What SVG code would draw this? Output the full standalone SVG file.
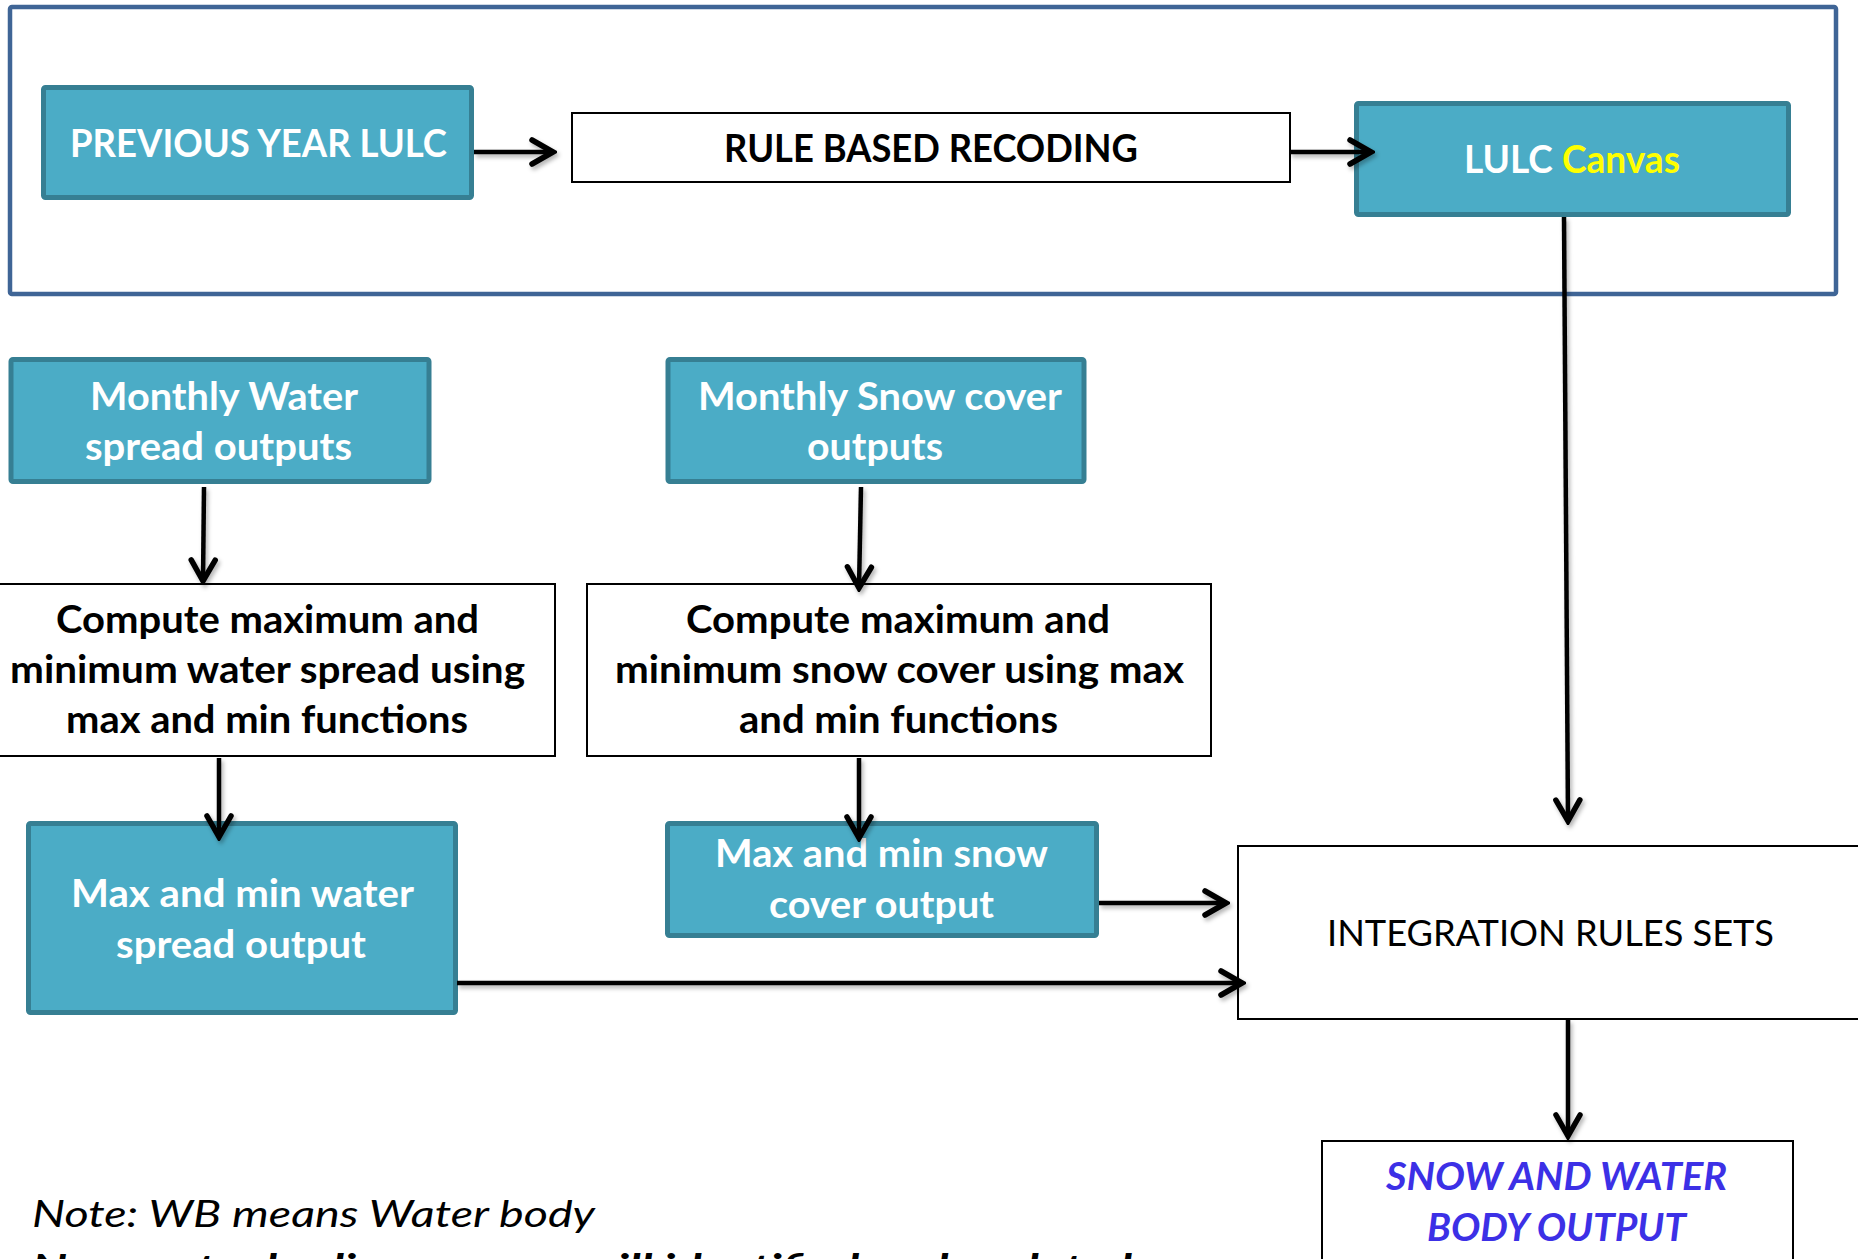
<svg xmlns="http://www.w3.org/2000/svg" width="1858" height="1259" viewBox="0 0 1858 1259">
<defs>
<style>
.teal{fill:#4bacc6;stroke:#367f93;stroke-width:5}
.plain{fill:#ffffff;stroke:#000000;stroke-width:2}
.wt{font-family:Lato,"Open Sans","Liberation Sans",sans-serif;font-weight:700;font-size:37.5px;fill:#ffffff;text-anchor:middle}
.bt{font-family:Lato,"Open Sans","Liberation Sans",sans-serif;font-weight:700;font-size:37.5px;fill:#000000;text-anchor:middle}
.rt{font-family:Lato,"Open Sans","Liberation Sans",sans-serif;font-weight:400;font-size:37.5px;fill:#000000;text-anchor:middle}
.blue{font-family:Lato,"Open Sans","Liberation Sans",sans-serif;font-weight:700;font-style:italic;font-size:37.5px;fill:#3c30e6;text-anchor:middle}
.note{font-family:Lato,"Open Sans","Liberation Sans",sans-serif;font-style:italic;font-size:37.5px;fill:#000000}
.conn{fill:none;stroke:#000000;stroke-width:4.5}
</style>
<marker id="ah" viewBox="-4 -16 32 32" refX="24" refY="0" markerWidth="32" markerHeight="32" markerUnits="userSpaceOnUse" orient="auto">
<path d="M3,-12 L24,0 L3,12" fill="none" stroke="#000000" stroke-width="5.5" stroke-linecap="round" stroke-linejoin="miter"/>
</marker>
<filter id="sh" x="-5%" y="-50%" width="110%" height="200%">
<feDropShadow dx="2" dy="3" stdDeviation="2" flood-color="#000000" flood-opacity="0.3"/>
</filter>
</defs>
<rect width="1858" height="1259" fill="#ffffff"/>

<g id="frame">
<rect x="10" y="7" width="1826" height="287" fill="none" stroke="#3f6596" stroke-width="4.5" rx="2"/>
</g>

<g id="prev-lulc">
<rect class="teal" x="43.5" y="87.5" width="428" height="110" rx="2"/>
<text class="wt" x="258.5" y="157" textLength="377" lengthAdjust="spacingAndGlyphs">PREVIOUS YEAR LULC</text>
</g>

<g id="rule-recoding">
<rect class="plain" x="572" y="113" width="718" height="69"/>
<text class="bt" x="931" y="162" textLength="414" lengthAdjust="spacingAndGlyphs">RULE BASED RECODING</text>
</g>

<g id="lulc-canvas">
<rect class="teal" x="1356.5" y="103.5" width="432" height="111" rx="2"/>
<text class="wt" x="1572" y="173" textLength="216" lengthAdjust="spacingAndGlyphs">LULC <tspan fill="#ffff00">Canvas</tspan></text>
</g>

<g id="monthly-water">
<rect class="teal" x="11" y="359.5" width="418" height="122" rx="2"/>
<text class="wt" x="224" y="410" textLength="268" lengthAdjust="spacingAndGlyphs">Monthly Water</text>
<text class="wt" x="218.5" y="460" textLength="267" lengthAdjust="spacingAndGlyphs">spread outputs</text>
</g>

<g id="monthly-snow">
<rect class="teal" x="668" y="359.5" width="416" height="122" rx="2"/>
<text class="wt" x="880" y="410" textLength="364" lengthAdjust="spacingAndGlyphs">Monthly Snow cover</text>
<text class="wt" x="875" y="460" textLength="136" lengthAdjust="spacingAndGlyphs">outputs</text>
</g>

<g id="compute-water">
<rect class="plain" x="-2" y="584" width="557" height="172"/>
<text class="bt" x="267.5" y="633" textLength="423" lengthAdjust="spacingAndGlyphs">Compute maximum and</text>
<text class="bt" x="267.5" y="683" textLength="515" lengthAdjust="spacingAndGlyphs">minimum water spread using</text>
<text class="bt" x="267" y="733" textLength="402" lengthAdjust="spacingAndGlyphs">max and min functions</text>
</g>

<g id="compute-snow">
<rect class="plain" x="587" y="584" width="624" height="172"/>
<text class="bt" x="898" y="633" textLength="424" lengthAdjust="spacingAndGlyphs">Compute maximum and</text>
<text class="bt" x="899.5" y="683" textLength="569" lengthAdjust="spacingAndGlyphs">minimum snow cover using max</text>
<text class="bt" x="898.5" y="733" textLength="319" lengthAdjust="spacingAndGlyphs">and min functions</text>
</g>

<g id="maxmin-water">
<rect class="teal" x="28.5" y="823.5" width="427" height="189" rx="2"/>
<text class="wt" x="242.5" y="907" textLength="343" lengthAdjust="spacingAndGlyphs">Max and min water</text>
<text class="wt" x="241" y="958" textLength="250" lengthAdjust="spacingAndGlyphs">spread output</text>
</g>

<g id="maxmin-snow">
<rect class="teal" x="667.5" y="823.5" width="429" height="112" rx="2"/>
<text class="wt" x="881.5" y="867" textLength="333" lengthAdjust="spacingAndGlyphs">Max and min snow</text>
<text class="wt" x="881.5" y="918" textLength="225" lengthAdjust="spacingAndGlyphs">cover output</text>
</g>

<g id="integration">
<rect class="plain" x="1238" y="846" width="640" height="173"/>
<text class="rt" x="1550.5" y="946" textLength="447" lengthAdjust="spacingAndGlyphs">INTEGRATION RULES SETS</text>
</g>

<g id="output">
<rect class="plain" x="1322" y="1141" width="471" height="150"/>
<text class="blue" x="1556.5" y="1190" textLength="341" lengthAdjust="spacingAndGlyphs">SNOW AND WATER</text>
<text class="blue" x="1556.5" y="1241" textLength="259" lengthAdjust="spacingAndGlyphs">BODY OUTPUT</text>
</g>

<g id="notes">
<text class="note" x="32" y="1227" textLength="563" lengthAdjust="spacingAndGlyphs">Note: WB means Water body</text>
<text class="note" x="32" y="1282" font-weight="700" textLength="1100" lengthAdjust="spacingAndGlyphs">Non-water bodies or snow will identified and updated</text>
</g>

<g id="connectors" filter="url(#sh)">
<path class="conn" d="M474,152 L553,152" marker-end="url(#ah)"/>
<path class="conn" d="M1290,152 L1371,152" marker-end="url(#ah)"/>
<path class="conn" d="M1564,217 L1568,821" marker-end="url(#ah)"/>
<path class="conn" d="M204,487 L203,581" marker-end="url(#ah)"/>
<path class="conn" d="M861,487 L859,588" marker-end="url(#ah)"/>
<path class="conn" d="M219,758 L219,837" marker-end="url(#ah)"/>
<path class="conn" d="M859,758 L859,838" marker-end="url(#ah)"/>
<path class="conn" d="M1099,903 L1226,903" marker-end="url(#ah)"/>
<path class="conn" d="M457,983 L1242,983" marker-end="url(#ah)"/>
<path class="conn" d="M1568,1020 L1568,1136" marker-end="url(#ah)"/>
</g>
</svg>
